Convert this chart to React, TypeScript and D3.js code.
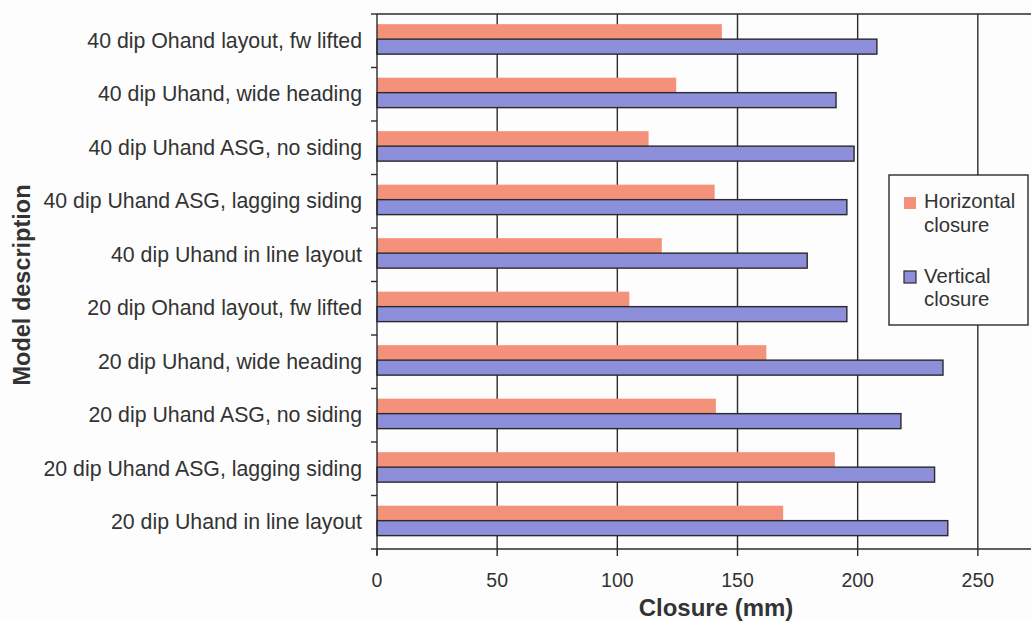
import React from "react";
import * as d3 from "d3";

const categories = [
  "40 dip Ohand layout, fw lifted",
  "40 dip Uhand, wide heading",
  "40 dip Uhand ASG, no siding",
  "40 dip Uhand ASG, lagging siding",
  "40 dip Uhand in line layout",
  "20 dip Ohand layout, fw lifted",
  "20 dip Uhand, wide heading",
  "20 dip Uhand ASG, no siding",
  "20 dip Uhand ASG, lagging siding",
  "20 dip Uhand in line layout",
];
const horizontal = [143.5, 124.5, 113, 140.5, 118.5, 105, 162, 141, 190.5, 169];
const vertical = [208, 191, 198.5, 195.5, 179, 195.5, 235.5, 218, 232, 237.5];
const xTicks = [0, 50, 100, 150, 200, 250];
const seriesNames = ["Horizontal", "Vertical"];

const W = 1031;
const H = 622;
const left = 377;
const top = 14;
const bottom = 549;
const font = "'Liberation Sans', Arial, sans-serif";
const orange = "#F4917A";
const blue = "#8D8FDB";
const ink = "#2a2a2a";
const textInk = "#333";

export default function App() {
  const x = d3.scaleLinear().domain([0, 300]).range([left, left + 721]);
  const y = d3.scaleBand<string>().domain(categories).range([top, bottom]).padding(0);
  const bw = y.bandwidth();
  const sub = d3.scaleBand<string>().domain(seriesNames).range([bw * 0.19, bw * 0.75]).padding(0);
  const boundaries = d3.range(categories.length + 1).map((i) => top + i * bw);
  const legendX = 889;
  const legendY = 175;
  return (
    <svg width={W} height={H} style={{ position: "absolute", left: 0, top: 0, background: "#fdfdfd" }}>
      <rect x={0} y={0} width={W} height={H} fill="#fdfdfd" />
      {xTicks.slice(1).map((t) => (
        <line key={"g" + t} x1={x(t)} x2={x(t)} y1={top} y2={bottom} stroke={ink} strokeWidth={1.4} />
      ))}
      <line x1={left} x2={W} y1={top} y2={top} stroke={ink} strokeWidth={1.4} />
      {categories.map((c, i) => (
        <g key={c}>
          <rect
            x={x(0)}
            y={(y(c) as number) + (sub("Horizontal") as number)}
            width={x(horizontal[i]) - x(0)}
            height={sub.bandwidth()}
            fill={orange}
          />
          <rect
            x={x(0)}
            y={(y(c) as number) + (sub("Vertical") as number)}
            width={x(vertical[i]) - x(0)}
            height={sub.bandwidth()}
            fill={blue}
            stroke={ink}
            strokeWidth={1.4}
          />
        </g>
      ))}
      <line x1={left} x2={left} y1={top} y2={bottom + 6} stroke={ink} strokeWidth={1.4} />
      <line x1={left} x2={W} y1={bottom} y2={bottom} stroke={ink} strokeWidth={1.4} />
      {boundaries.map((b, i) => (
        <line key={"yt" + i} x1={left - 6} x2={left} y1={b} y2={b} stroke={ink} strokeWidth={1.4} />
      ))}
      {xTicks.map((t) => (
        <g key={"xt" + t}>
          <line x1={x(t)} x2={x(t)} y1={bottom} y2={bottom + 7} stroke={ink} strokeWidth={1.4} />
          <text x={x(t)} y={587} textAnchor="middle" fontFamily={font} fontSize={19.5} fill={textInk}>
            {t}
          </text>
        </g>
      ))}
      {categories.map((c) => (
        <text
          key={"l" + c}
          x={362}
          y={(y(c) as number) + bw / 2 + 7}
          textAnchor="end"
          fontFamily={font}
          fontSize={21.3}
          fill={textInk}
        >
          {c}
        </text>
      ))}
      <text x={716} y={616} textAnchor="middle" fontFamily={font} fontSize={24} fontWeight="bold" fill={textInk}>
        Closure (mm)
      </text>
      <text
        transform={`translate(30, 285) rotate(-90)`}
        textAnchor="middle"
        fontFamily={font}
        fontSize={23.5}
        fontWeight="bold"
        fill={textInk}
      >
        Model description
      </text>
      <rect x={legendX} y={legendY} width={139} height={150} fill="#fdfdfd" stroke={ink} strokeWidth={1.4} />
      <rect x={legendX + 15} y={legendY + 22} width={12} height={12} fill={orange} />
      <text x={legendX + 35} y={legendY + 33} fontFamily={font} fontSize={20.3} fill={textInk}>
        Horizontal
      </text>
      <text x={legendX + 35} y={legendY + 57} fontFamily={font} fontSize={20.3} fill={textInk}>
        closure
      </text>
      <rect x={legendX + 15} y={legendY + 96} width={12} height={12} fill={blue} stroke={ink} strokeWidth={1.2} />
      <text x={legendX + 35} y={legendY + 108} fontFamily={font} fontSize={20.3} fill={textInk}>
        Vertical
      </text>
      <text x={legendX + 35} y={legendY + 131} fontFamily={font} fontSize={20.3} fill={textInk}>
        closure
      </text>
    </svg>
  );
}
